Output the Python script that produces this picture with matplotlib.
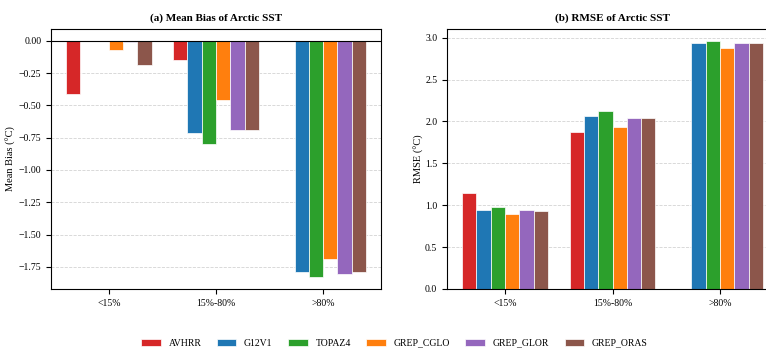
import numpy as np
import matplotlib
matplotlib.use("Agg")
import matplotlib.pyplot as plt

plt.rcParams['font.family'] = ['Liberation Serif', 'DejaVu Serif']

# Data
categories = ["<15%", "15%-80%", ">80%"]
products = ["AVHRR", "G12V1", "TOPAZ4", "GREP_CGLO", "GREP_GLOR", "GREP_ORAS"]
colors = ["#d62728", "#1f77b4", "#2ca02c", "#ff7f0e", "#9467bd", "#8c564b"]

bias_avhrr = [-0.41, -0.15, np.nan]
bias_g12v1 = [-0.005, -0.713, -1.787]
bias_topaz4 = [-0.005, -0.80, -1.83]
bias_cglo = [-0.07, -0.462, -1.69]
bias_glor = [-0.013, -0.692, -1.805]
bias_oras = [-0.186, -0.687, -1.787]

rmse_avhrr = [1.15, 1.87, np.nan]
rmse_g12v1 = [0.945, 2.07, 2.934]
rmse_topaz4 = [0.977, 2.12, 2.955]
rmse_cglo = [0.893, 1.93, 2.88]
rmse_glor = [0.945, 2.04, 2.94]
rmse_oras = [0.933, 2.04, 2.93]

bias = [bias_avhrr, bias_g12v1, bias_topaz4, bias_cglo, bias_glor, bias_oras]
rmse = [rmse_avhrr, rmse_g12v1, rmse_topaz4, rmse_cglo, rmse_glor, rmse_oras]

fig = plt.figure(figsize=(7.66, 3.5), dpi=100)
ax1 = fig.add_axes([51/766, 1 - 289/350, 330/766, 260/350])
ax2 = fig.add_axes([447/766, 1 - 289/350, 331/766, 260/350])

x = np.arange(len(categories))
width = 0.8 / len(products)

for ax, data in [(ax1, bias), (ax2, rmse)]:
    for i, (name, vals) in enumerate(zip(products, data)):
        ax.bar(x - 0.4 + width * (i + 0.5), vals, width, label=name,
               color=colors[i], edgecolor="white", linewidth=0.5)
    ax.set_xticks(x)
    ax.set_xticklabels(categories, fontsize=7)
    ax.tick_params(axis="y", labelsize=7)
    ax.yaxis.grid(True, linestyle="--", color="lightgrey", linewidth=0.6)
    ax.set_axisbelow(True)

# bias panel gets margins on both sides of the data
ax1.use_sticky_edges = False
ax1.autoscale_view()

ax1.axhline(0, color="black", linewidth=0.8)
ax1.set_title("(a) Mean Bias of Arctic SST", fontsize=8, fontweight="bold")
ax1.set_ylabel("Mean Bias (°C)", fontsize=7.5, labelpad=2)
ax2.set_title("(b) RMSE of Arctic SST", fontsize=8, fontweight="bold")
ax2.set_ylabel("RMSE (°C)", fontsize=7.5, labelpad=1)

handles, labels = ax1.get_legend_handles_labels()
fig.legend(handles, labels, loc="center", bbox_to_anchor=(0.515, 0.02),
           ncol=6, frameon=False, fontsize=7, columnspacing=1.6)

fig.savefig("out.png", dpi=100)
